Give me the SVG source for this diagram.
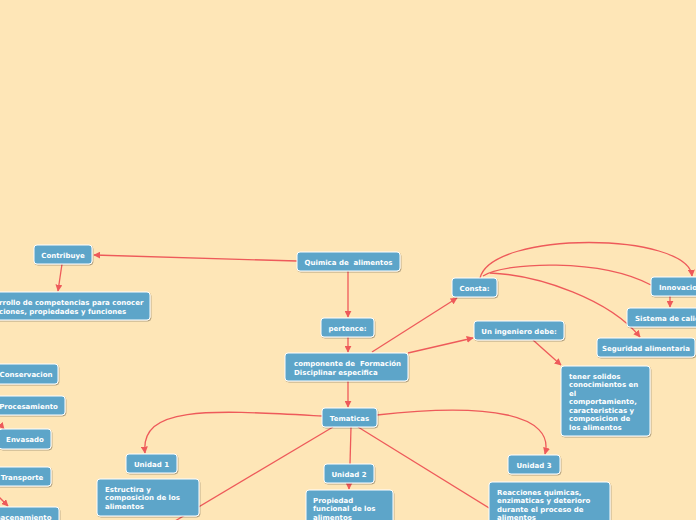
<svg xmlns="http://www.w3.org/2000/svg" width="696" height="520" viewBox="0 0 696 520">
<defs>
<marker id="ah" viewBox="0 0 10 10" refX="9" refY="5" markerWidth="7" markerHeight="7" markerUnits="userSpaceOnUse" orient="auto">
<path d="M0,0 L10,5 L0,10 z" fill="#EE5A5A"/>
</marker>
<filter id="sh" x="-10%" y="-10%" width="130%" height="140%">
<feDropShadow dx="0.8" dy="1" stdDeviation="0.7" flood-color="#000" flood-opacity="0.3"/>
</filter>
<style>
.n rect{fill:#5DA5C9;stroke:#FFFFFF;stroke-width:1;filter:url(#sh)}
.n text{fill:#FFFFFF;font-family:"DejaVu Sans",Verdana,sans-serif;font-weight:bold;font-size:7px}
.c{text-anchor:middle}
#connectors path{fill:none;stroke:#EE5A5A;stroke-width:1.3}
.a{marker-end:url(#ah)}
</style>
</defs>
<rect x="0" y="0" width="696" height="520" fill="#FEE6B7"/>
<g id="connectors">
<path class="a" d="M297 261 L94 255"/>
<path class="a" d="M62 264 L58 291"/>
<path class="a" d="M348 271 L348 317"/>
<path class="a" d="M348 337 L348 352"/>
<path class="a" d="M372 352 L457 298"/>
<path class="a" d="M408 353 L473 338"/>
<path class="a" d="M533 340 L561 365"/>
<path class="a" d="M480 278 C 492 230, 688 232, 692 276"/>
<path d="M483 276 C 505 262, 600 258, 651 285"/>
<path class="a" d="M490 273 C 540 275, 610 300, 640 337"/>
<path class="a" d="M670 296 L670 307"/>
<path class="a" d="M348 381 L348 407"/>
<path class="a" d="M322 416 C 210 410, 140 405, 145 453"/>
<path class="a" d="M377 415 C 490 402, 555 415, 545 454"/>
<path d="M351 427 L350 464"/>
<path class="a" d="M349 483 L349 489"/>
<path d="M333 427 L170 524"/>
<path d="M358 427 L515 524"/>
<path class="a" d="M-1 423 L4 429"/>
<path class="a" d="M-2 496 L8 506"/>
</g>
<g id="n-contribuye" class="n"><rect x="34" y="245" width="58" height="19" rx="3"/><text class="c" x="63" y="257.5">Contribuye</text></g>
<g id="n-desarrollo" class="n"><rect x="-6" y="292" width="156" height="28" rx="3"/><text x="-1" y="304.5">rrollo de competencias para conocer</text><text x="-1" y="313.5">ciones, propiedades y funciones</text></g>
<g id="n-quimica" class="n"><rect x="297" y="252" width="103" height="19" rx="3"/><text class="c" x="348.5" y="264.5" xml:space="preserve">Quimica de  alimentos</text></g>
<g id="n-pertence" class="n"><rect x="321" y="318" width="53" height="19" rx="3"/><text class="c" x="347.5" y="330.5">pertence:</text></g>
<g id="n-componente" class="n"><rect x="285" y="353" width="123" height="28" rx="3"/><text x="294" y="365.5" xml:space="preserve">componente de  Formación</text><text x="294" y="374.5">Disciplinar especifica</text></g>
<g id="n-tematicas" class="n"><rect x="322" y="408" width="55" height="19" rx="3"/><text class="c" x="349.5" y="420.5">Tematicas</text></g>
<g id="n-consta" class="n"><rect x="452" y="278" width="45" height="19" rx="3"/><text class="c" x="474.5" y="290.5">Consta:</text></g>
<g id="n-ingeniero" class="n"><rect x="474" y="321" width="90" height="19" rx="3"/><text class="c" x="519" y="333.5">Un ingeniero debe:</text></g>
<g id="n-innovacion" class="n"><rect x="651" y="277" width="70" height="19" rx="3"/><text x="659" y="289.5">Innovacion</text></g>
<g id="n-sistema" class="n"><rect x="627" y="308" width="95" height="19" rx="3"/><text x="635" y="320.5">Sistema de calidad</text></g>
<g id="n-seguridad" class="n"><rect x="597" y="338" width="98" height="19" rx="3"/><text class="c" x="646" y="350.5">Seguridad alimentaria</text></g>
<g id="n-tener" class="n"><rect x="561" y="366" width="89" height="70" rx="3"/>
<text x="569" y="378.5">tener solidos</text><text x="569" y="387">conocimientos en</text><text x="569" y="395.5">el</text><text x="569" y="404">comportamiento,</text><text x="569" y="412.5">caracteristicas y</text><text x="569" y="421">composicion de</text><text x="569" y="429.5">los alimentos</text></g>
<g id="n-conservacion" class="n"><rect x="-6" y="364" width="64" height="20" rx="3"/><text class="c" x="26" y="376.5">Conservacion</text></g>
<g id="n-procesamiento" class="n"><rect x="-8" y="396" width="73" height="19" rx="3"/><text class="c" x="28.5" y="408.5">Procesamiento</text></g>
<g id="n-envasado" class="n"><rect x="-1" y="429" width="52" height="20" rx="3"/><text class="c" x="25" y="441.5">Envasado</text></g>
<g id="n-transporte" class="n"><rect x="-7" y="467" width="58" height="19" rx="3"/><text class="c" x="22" y="479.5">Transporte</text></g>
<g id="n-almacenamiento" class="n"><rect x="-35" y="507" width="94" height="20" rx="3"/><text x="51.5" y="519.5" style="text-anchor:end">Almacenamiento</text></g>
<g id="n-unidad1" class="n"><rect x="126" y="454" width="51" height="19" rx="3"/><text class="c" x="151.5" y="466.5">Unidad 1</text></g>
<g id="n-estructura" class="n"><rect x="97" y="479" width="102" height="37" rx="3"/><text x="105" y="491.5">Estructira y</text><text x="105" y="500">composicion de los</text><text x="105" y="508.5">alimentos</text></g>
<g id="n-unidad2" class="n"><rect x="324" y="464" width="50" height="19" rx="3"/><text class="c" x="349" y="476.5">Unidad 2</text></g>
<g id="n-propiedad" class="n"><rect x="306" y="490" width="87" height="40" rx="3"/><text x="313" y="502.5">Propiedad</text><text x="313" y="511">funcional de los</text><text x="313" y="519.5">alimentos</text></g>
<g id="n-unidad3" class="n"><rect x="508" y="455" width="52" height="19" rx="3"/><text class="c" x="534" y="467.5">Unidad 3</text></g>
<g id="n-reacciones" class="n"><rect x="489" y="482" width="121" height="45" rx="3"/><text x="497" y="494.5">Reacciones quimicas,</text><text x="497" y="503">enzimaticas y deterioro</text><text x="497" y="511.5">durante el proceso de</text><text x="497" y="520">alimentos</text></g>
</svg>
